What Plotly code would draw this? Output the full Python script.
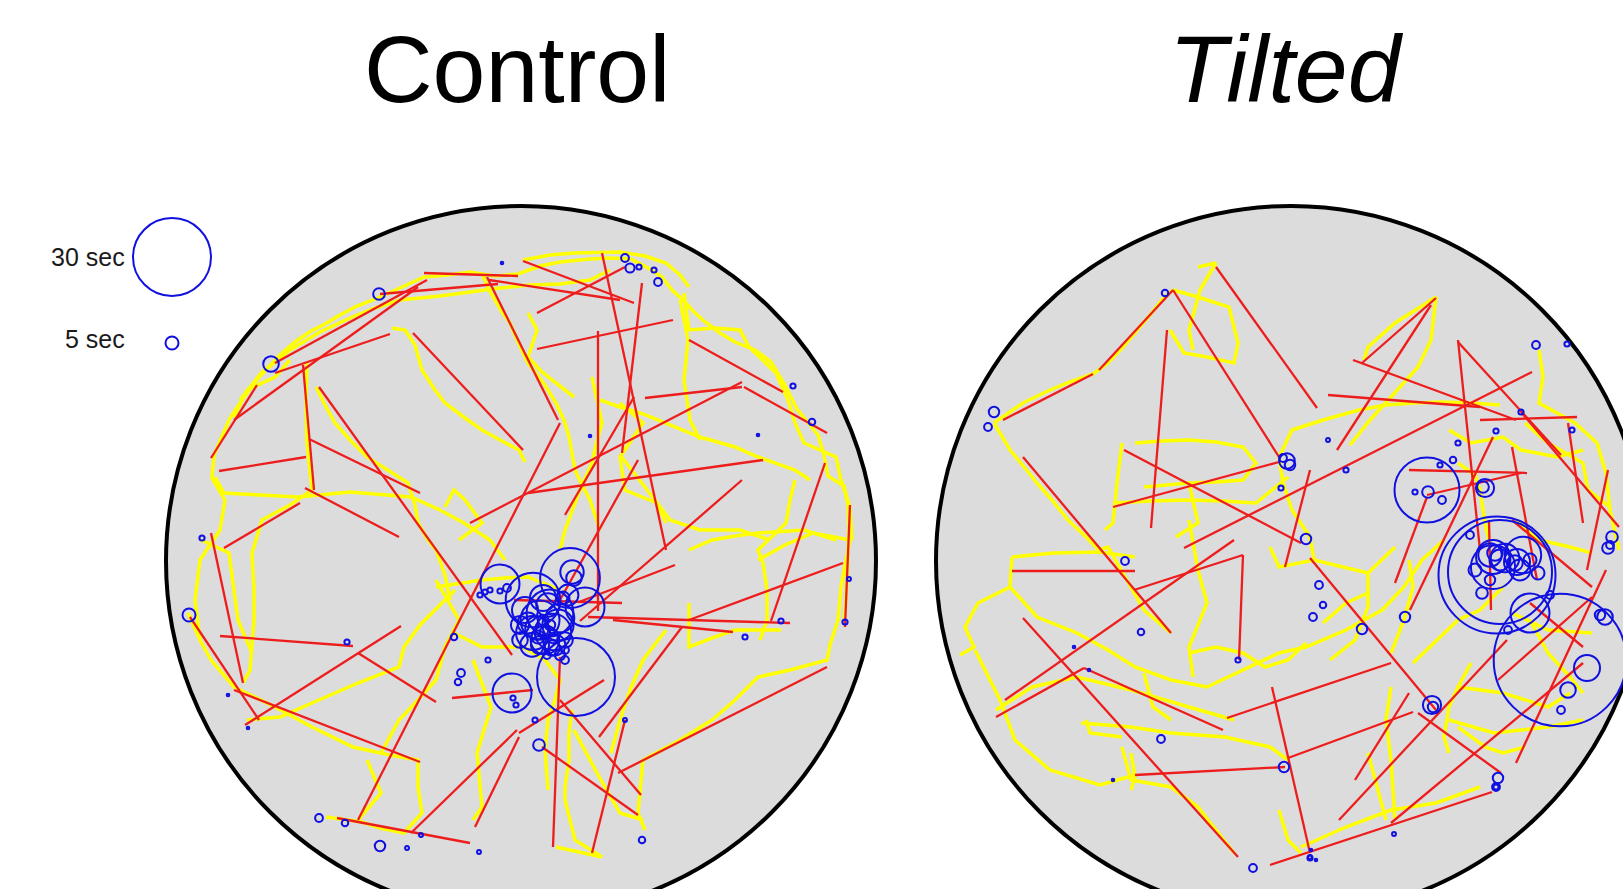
import plotly.graph_objects as go

# Open-field tracks, camera frame in px (y grows downwards).
# Arena centre (361, 361), radius 355 in both recordings.
ARENA_C = 361
ARENA_R = 355
PX_PER_SEC = 1.3          # pause circle radius per second of immobility

# ---------------- Control ----------------
ctrl_moves = [
    (264, 73, 358, 76), (220, 94, 338, 84), (115, 163, 267, 80), (74, 220, 258, 87),
    (115, 173, 230, 134), (51, 258, 97, 185), (143, 165, 154, 290), (59, 271, 146, 257),
    (149, 239, 260, 293), (159, 187, 352, 455), (253, 133, 363, 250), (327, 77, 398, 220),
    (363, 61, 474, 103), (377, 113, 465, 67), (329, 80, 460, 100), (377, 149, 513, 120),
    (442, 53, 506, 350), (438, 131, 438, 411), (482, 83, 462, 253), (400, 223, 198, 620),
    (368, 293, 603, 260), (310, 323, 582, 182), (485, 198, 582, 187), (529, 140, 623, 192),
    (584, 187, 667, 233), (405, 315, 474, 197), (478, 260, 400, 400), (582, 280, 420, 421),
    (665, 263, 611, 421), (690, 305, 685, 427), (145, 288, 239, 337), (64, 348, 140, 303),
    (51, 333, 83, 483), (30, 417, 99, 520), (60, 436, 193, 446), (85, 525, 241, 426),
    (74, 490, 260, 562), (198, 453, 276, 502), (292, 498, 373, 490), (177, 618, 310, 643),
    (251, 633, 357, 530), (315, 627, 359, 537), (382, 547, 478, 615), (393, 647, 400, 457),
    (432, 653, 465, 520), (359, 533, 444, 480), (400, 500, 481, 595), (458, 573, 667, 467),
    (439, 537, 522, 427), (529, 420, 683, 363), (428, 417, 630, 423), (453, 420, 573, 432),
    (419, 402, 515, 365), (354, 400, 462, 403),
]

ctrl_paths = [
    [(54, 255), (62, 236), (70, 218), (82, 200), (94, 183), (106, 170), (120, 155), (135, 142),
     (151, 131), (165, 124), (180, 115), (197, 106), (213, 100), (240, 88), (264, 77), (288, 75),
     (310, 72), (335, 76), (358, 74), (380, 66), (400, 62), (430, 59), (450, 58), (471, 59),
     (488, 68), (502, 77), (512, 90), (523, 100), (535, 113), (544, 121), (560, 133), (575, 142),
     (595, 150), (611, 162), (625, 185), (637, 209), (648, 222), (658, 235), (664, 255),
     (668, 276), (684, 286), (688, 305), (689, 328), (688, 355), (687, 380), (686, 400), (684, 421)],
    [(80, 200), (102, 172), (118, 160), (130, 150), (160, 132), (190, 118), (215, 108), (240, 100),
     (280, 96), (310, 92), (340, 88), (370, 85), (400, 84), (430, 80), (450, 70)],
    [(322, 73), (328, 88), (335, 100), (342, 112), (350, 123), (358, 142), (368, 163), (385, 185),
     (396, 203), (404, 220), (409, 237), (412, 255), (415, 270), (422, 285), (430, 300), (440, 330)],
    [(232, 128), (245, 130), (255, 145), (262, 170), (275, 190), (285, 203), (305, 218),
     (322, 230), (340, 240), (359, 250), (365, 262)],
    [(156, 187), (165, 205), (175, 223), (190, 240), (207, 257), (230, 272), (248, 283),
     (255, 305), (258, 323), (268, 340), (276, 350), (285, 375), (290, 400)],
    [(147, 163), (146, 200), (147, 243), (150, 270), (152, 290), (130, 305), (102, 320),
     (92, 353), (94, 390), (94, 420), (90, 470), (83, 483)],
    [(55, 277), (64, 293), (100, 295), (138, 297), (190, 292), (251, 297), (280, 310),
     (304, 323), (330, 340), (345, 360)],
    [(524, 93), (529, 130), (555, 128), (580, 130), (589, 147), (602, 160), (616, 173),
     (628, 200), (635, 223), (644, 243), (676, 257), (681, 280), (690, 307), (692, 340)],
    [(440, 200), (460, 207), (483, 214), (506, 223), (540, 237), (575, 247), (598, 257),
     (635, 270), (650, 280)],
    [(635, 280), (630, 300), (626, 323), (598, 350), (603, 363), (607, 390), (607, 420), (600, 440)],
    [(598, 360), (625, 345), (653, 333), (690, 340), (685, 365), (681, 387), (678, 420),
     (670, 445), (667, 460), (630, 470), (598, 477), (575, 500), (552, 520), (520, 540),
     (483, 560), (480, 590), (478, 613), (485, 630)],
    [(396, 647), (420, 652), (442, 657), (415, 640), (405, 600), (405, 587), (409, 560),
     (409, 533), (412, 510)],
    [(28, 413), (40, 440), (51, 460), (74, 487), (115, 507), (152, 527), (193, 547), (230, 555),
     (258, 560), (258, 587), (262, 613), (244, 633), (220, 628), (202, 622), (166, 617)],
    [(87, 520), (120, 517), (152, 503), (198, 483), (239, 467), (244, 447), (260, 425),
     (280, 405), (295, 390)],
    [(276, 387), (300, 383), (322, 380), (345, 378), (368, 377), (400, 390)],
    [(294, 433), (322, 447), (363, 447), (385, 460), (400, 480), (395, 500), (388, 520),
     (385, 550), (388, 590)],
    [(74, 217), (87, 190), (115, 177), (130, 160)],
    [(520, 100), (528, 140), (524, 180), (530, 220), (540, 240)],
    [(460, 255), (480, 280), (495, 300), (510, 320), (540, 330), (580, 330), (610, 340)],
    [(363, 60), (390, 55), (414, 53), (440, 52), (460, 52), (485, 56), (506, 63), (520, 75), (529, 87)],
    [(368, 113), (377, 130), (368, 157), (382, 172), (396, 183), (414, 197)],
    [(432, 177), (442, 223), (436, 245), (432, 263), (420, 290), (414, 307), (405, 330), (400, 350)],
    [(460, 203), (483, 223), (460, 257), (465, 290), (497, 303), (506, 323)],
    [(285, 307), (294, 290), (305, 300), (322, 323), (299, 340)],
    [(529, 350), (552, 340), (575, 336), (598, 333), (644, 330), (676, 340)],
    [(529, 403), (529, 447), (552, 438), (575, 430), (621, 430)],
    [(506, 430), (483, 460), (470, 490), (460, 520), (451, 553)],
    [(207, 560), (221, 593), (198, 620)],
    [(276, 380), (299, 420), (285, 447), (276, 480), (258, 500), (239, 520), (221, 553)],
    [(313, 460), (331, 507), (317, 553), (322, 607), (313, 620)],
    [(414, 530), (437, 573), (460, 613), (483, 620)],
    [(41, 340), (69, 353), (78, 420), (92, 453)],
    [(54, 255), (52, 278), (65, 300), (60, 330), (40, 360), (35, 400), (40, 440)],
]

# pauses: x, y, duration (s)
ctrl_pause_x = [111, 219, 29, 379, 220, 159, 42, 465, 470, 479, 494, 498, 652, 633, 482, 585,
                621, 301, 298, 185, 187, 685, 689, 294, 375, 465, 261, 247, 319, 68, 88,
                340, 373, 410, 412, 414, 425, 416, 352, 380, 390, 373, 393, 385, 400, 377,
                388, 368, 395, 380, 405, 360, 403, 390, 385, 393, 383, 347, 325, 330, 340,
                405, 353, 356, 328, 320, 598, 342, 430,
                365, 398, 372, 408, 383, 360, 392, 378, 400, 405, 387]
ctrl_pause_y = [164, 94, 415, 545, 646, 618, 338, 58, 68, 67, 70, 82, 222, 186, 640, 437,
                421, 473, 482, 623, 442, 422, 379, 437, 520, 520, 635, 648, 652, 495, 528,
                384, 400, 378, 372, 378, 407, 477, 493, 420, 413, 433, 432, 440, 418, 428,
                405, 423, 445, 445, 440, 440, 398, 425, 432, 438, 420, 388, 392, 390, 391,
                450, 498, 505, 460, 395, 235, 63, 236,
                410, 425, 445, 395, 398, 425, 448, 437, 455, 460, 455]
ctrl_pause_s = [6, 4.5, 5, 4.5, 4, 3, 2, 3, 3.5, 2, 2, 3, 2.5, 2, 2.5, 2, 2, 3, 2.5, 2.5, 2,
                2, 1.5, 2.5, 2, 1.5, 1.5, 1.5, 1.5, 1, 1, 15, 21, 23, 9, 6, 15, 30, 15, 15,
                18, 13, 14, 11, 11, 9, 9, 8, 8, 7, 6, 6, 5, 4, 4, 4, 4, 3, 2, 2, 2, 3, 2,
                2, 2, 2, 1, 1, 1,
                10, 12, 9, 8, 10, 7, 6, 5, 4, 3, 3]

# ---------------- Tilted ----------------
tilt_moves = [
    (73, 220, 163, 174), (169, 170, 243, 90), (243, 90, 349, 257), (237, 130, 221, 328),
    (286, 67, 387, 208), (194, 250, 371, 343), (183, 307, 349, 262), (93, 257, 241, 433),
    (398, 195, 550, 207), (423, 160, 586, 220), (432, 163, 506, 98), (501, 105, 407, 250),
    (254, 348, 602, 172), (528, 140, 550, 350), (528, 142, 631, 255), (550, 220, 647, 217),
    (591, 212, 689, 327), (479, 270, 597, 273), (497, 295, 591, 273), (638, 223, 653, 323),
    (582, 247, 607, 380), (497, 297, 465, 383), (380, 270, 355, 367), (82, 371, 205, 371),
    (204, 390, 313, 355), (313, 355, 309, 460), (75, 500, 304, 340), (66, 517, 154, 468),
    (154, 468, 293, 530), (93, 418, 308, 657), (297, 518, 461, 463), (205, 575, 355, 567),
    (342, 487, 380, 653), (340, 665, 562, 592), (358, 558, 483, 512), (380, 358, 506, 510),
    (488, 513, 571, 573), (409, 620, 577, 440), (425, 580, 479, 493), (461, 623, 653, 463),
    (568, 480, 662, 397), (586, 563, 676, 370), (600, 403, 653, 447), (559, 320, 561, 410),
    (582, 320, 662, 387), (480, 410, 563, 237), (678, 270, 657, 370),
]

tilt_paths = [
    [(64, 223), (93, 203), (120, 190), (140, 182), (163, 174), (178, 163), (192, 148),
     (205, 133), (220, 115), (232, 100), (243, 90)],
    [(64, 223), (80, 250), (95, 268), (107, 283), (122, 300), (138, 320), (155, 336),
     (169, 350), (178, 347), (190, 368), (201, 387), (214, 410), (241, 433)],
    [(243, 90), (268, 97), (299, 107), (308, 143), (304, 163), (277, 157), (254, 153), (240, 130)],
    [(268, 67), (286, 63), (270, 90), (259, 130), (263, 150)],
    [(349, 257), (362, 230), (393, 220), (429, 210), (456, 205), (483, 203), (512, 202),
     (541, 203), (570, 205)],
    [(420, 245), (440, 220), (461, 197), (488, 167), (501, 140), (506, 97), (465, 123),
     (438, 147), (434, 160)],
    [(192, 243), (187, 283), (183, 323), (175, 330)],
    [(205, 243), (232, 241), (259, 240), (286, 242), (313, 247), (326, 263), (313, 280),
     (286, 282), (259, 283), (214, 287)],
    [(183, 303), (220, 301), (259, 300), (292, 301), (326, 303), (358, 277)],
    [(349, 257), (353, 283), (362, 310), (380, 337), (384, 360)],
    [(609, 150), (613, 177), (609, 203), (645, 223), (667, 243), (676, 273), (680, 310), (689, 350)],
    [(519, 230), (541, 243), (573, 237), (591, 250), (627, 257), (653, 250)],
    [(528, 263), (545, 275), (550, 290), (555, 323), (560, 345)],
    [(82, 357), (124, 353), (169, 352), (205, 357)],
    [(82, 357), (80, 387), (48, 403), (35, 427), (44, 447), (30, 455)],
    [(80, 387), (107, 417), (147, 433), (178, 450), (205, 467), (241, 480), (277, 487),
     (313, 470), (349, 453), (376, 447), (416, 430), (452, 410), (474, 387), (492, 360), (514, 340)],
    [(66, 510), (102, 487), (147, 477), (201, 490), (259, 507), (304, 520)],
    [(151, 523), (201, 527), (241, 533), (295, 537), (340, 547), (358, 560)],
    [(192, 547), (201, 580), (241, 587), (268, 607), (304, 653)],
    [(259, 320), (268, 370), (277, 403), (259, 447), (263, 477)],
    [(340, 347), (349, 367), (384, 360), (438, 373), (465, 347)],
    [(438, 373), (438, 393), (438, 407), (425, 440), (400, 460)],
    [(371, 647), (416, 627), (461, 610), (506, 603), (550, 587)],
    [(461, 487), (456, 520), (461, 560), (465, 620)],
    [(528, 487), (573, 493), (618, 507), (640, 493)],
    [(582, 413), (618, 430), (662, 433)],
    [(483, 463), (528, 420), (550, 410), (573, 387)],
    [(519, 520), (564, 533), (618, 527), (653, 520)],
    [(45, 450), (70, 500), (85, 540), (120, 570), (170, 585), (205, 575)],
    [(259, 283), (268, 323), (246, 337)],
    [(595, 223), (618, 243), (653, 263), (658, 290), (680, 307)],
    [(586, 320), (609, 340), (640, 347), (662, 353)],
    [(600, 420), (618, 453), (640, 477), (653, 493)],
    [(528, 527), (555, 547), (573, 553), (595, 547)],
    [(541, 463), (528, 487), (519, 507), (514, 537), (519, 553)],
    [(438, 393), (416, 403), (393, 423)],
    [(479, 360), (483, 387), (474, 420), (461, 453)],
    [(156, 520), (160, 533), (192, 537)],
    [(201, 553), (205, 577), (201, 590)],
    [(349, 610), (358, 640), (371, 653)],
    [(438, 553), (447, 587), (456, 620)],
    [(259, 453), (286, 447), (313, 453), (335, 467), (358, 460), (376, 443)],
    [(214, 473), (223, 507), (241, 520)],
]

tilt_pause_x = [567, 570, 497, 630, 600, 563, 560, 565, 570, 587, 593, 585, 563, 575, 552, 608,
                498, 553, 555, 657, 638, 502, 503, 675, 670, 682, 678, 680, 475, 432, 64, 58,
                235, 357, 360, 353, 637, 568, 566, 376, 389, 195, 211, 231, 308, 354, 383,
                323, 631, 606, 642, 591, 566, 523, 528, 510, 485, 351, 416, 398, 380, 380,
                393, 464, 566, 381, 386, 144, 159, 183,
                512, 545, 560, 590, 600, 540, 620, 578]
tilt_pause_y = [375, 372, 290, 460, 413, 357, 355, 353, 360, 362, 355, 363, 367, 358, 393, 373,
                292, 287, 288, 468, 490, 505, 507, 417, 415, 337, 348, 345, 417, 429, 212, 227,
                93, 261, 265, 258, 144, 578, 587, 339, 385, 361, 432, 539, 460, 567, 417,
                668, 510, 145, 230, 212, 231, 260, 243, 265, 292, 288, 270, 240, 658, 657,
                405, 634, 587, 650, 660, 447, 470, 580,
                300, 370, 380, 370, 360, 335, 395, 430]
tilt_pause_s = [45, 40, 25, 51, 15, 13, 9, 6, 8, 10, 14, 6, 17, 11, 4.5, 5, 4.5, 4.5, 7, 10,
                6, 7, 4, 6, 4, 4.5, 4.5, 3, 4, 4, 4, 3, 2.5, 6, 4, 3, 2, 4, 3, 4, 3, 3, 2.5,
                3, 2, 4, 3, 3, 3, 3, 2, 2, 2, 2.5, 2, 2, 2, 2, 2, 1.5, 2, 1.5, 2.5, 1.5,
                2, 1, 1, 1, 1, 1,
                3, 5, 4, 8, 5, 3, 3, 3]

LEGEND_SECONDS = [30, 5]
LEGEND_LABELS = ["30 sec", "5 sec"]

YELLOW = "#ffff00"
RED = "#ee1d1d"
BLUE = "#1010e0"
FONT = "Liberation Sans, Arial, sans-serif"


def flatten_paths(paths):
    xs, ys = [], []
    for p in paths:
        for x, y in p:
            xs.append(x)
            ys.append(y)
        xs.append(None)
        ys.append(None)
    return xs, ys


def flatten_moves(moves):
    xs, ys = [], []
    for x0, y0, x1, y1 in moves:
        xs += [x0, x1, None]
        ys += [y0, y1, None]
    return xs, ys


def pause_marker(seconds):
    return dict(symbol="circle-open", color=BLUE, opacity=1,
                size=[2 * PX_PER_SEC * s for s in seconds],
                line=dict(color=BLUE, width=2))


def arena_traces(paths, moves, px, py, ps, xa, ya):
    tx, ty = flatten_paths(paths)
    mx, my = flatten_moves(moves)
    return [
        go.Scatter(x=tx, y=ty, mode="lines", xaxis=xa, yaxis=ya, hoverinfo="skip",
                   line=dict(color=YELLOW, width=3.5), showlegend=False),
        go.Scatter(x=mx, y=my, mode="lines", xaxis=xa, yaxis=ya, hoverinfo="skip",
                   line=dict(color=RED, width=2.3), showlegend=False),
        go.Scatter(x=px, y=py, mode="markers", xaxis=xa, yaxis=ya, showlegend=False,
                   marker=pause_marker(ps)),
    ]


fig = go.Figure()
for t in arena_traces(ctrl_paths, ctrl_moves, ctrl_pause_x, ctrl_pause_y, ctrl_pause_s, "x", "y"):
    fig.add_trace(t)
for t in arena_traces(tilt_paths, tilt_moves, tilt_pause_x, tilt_pause_y, tilt_pause_s, "x2", "y2"):
    fig.add_trace(t)

# scale legend for pause duration
legend_x = [12, 12]
legend_y = [57, 143]
fig.add_trace(go.Scatter(
    x=legend_x, y=legend_y, mode="markers", xaxis="x", yaxis="y", showlegend=False,
    hoverinfo="skip", cliponaxis=False, marker=pause_marker(LEGEND_SECONDS)))

annotations = []
for lbl, ly in zip(LEGEND_LABELS, [57, 139]):
    annotations.append(dict(x=-33, y=ly, xref="x", yref="y", text=lbl, showarrow=False,
                            xanchor="right", yanchor="middle",
                            font=dict(family=FONT, size=25, color="#1a1a1a")))

annotations.append(dict(x=517 / 1623, y=0.922, xref="paper", yref="paper", text="Control",
                        showarrow=False, xanchor="center", yanchor="middle",
                        font=dict(family=FONT, size=95, color="black")))
annotations.append(dict(x=1286 / 1623, y=0.922, xref="paper", yref="paper", text="<i>Tilted</i>",
                        showarrow=False, xanchor="center", yanchor="middle",
                        font=dict(family=FONT, size=95, color="black")))

shapes = []
for xr, yr in (("x", "y"), ("x2", "y2")):
    shapes.append(dict(type="circle", xref=xr, yref=yr, layer="below",
                       x0=ARENA_C - ARENA_R, x1=ARENA_C + ARENA_R,
                       y0=ARENA_C - ARENA_R, y1=ARENA_C + ARENA_R,
                       fillcolor="#dcdcdc", line=dict(color="black", width=4)))

W, H = 1623, 889
hidden = dict(visible=False, showgrid=False, zeroline=False, domain=[0, 1])
fig.update_layout(
    width=W, height=H, margin=dict(l=0, r=0, t=0, b=0),
    paper_bgcolor="white", plot_bgcolor="rgba(0,0,0,0)",
    xaxis=dict(hidden, range=[-160, W - 160]),
    yaxis=dict(hidden, range=[H - 200, -200]),
    xaxis2=dict(hidden, range=[-930, W - 930], overlaying="x"),
    yaxis2=dict(hidden, range=[H - 200, -200], overlaying="y"),
    shapes=shapes, annotations=annotations,
)

fig.write_html("out.html")
